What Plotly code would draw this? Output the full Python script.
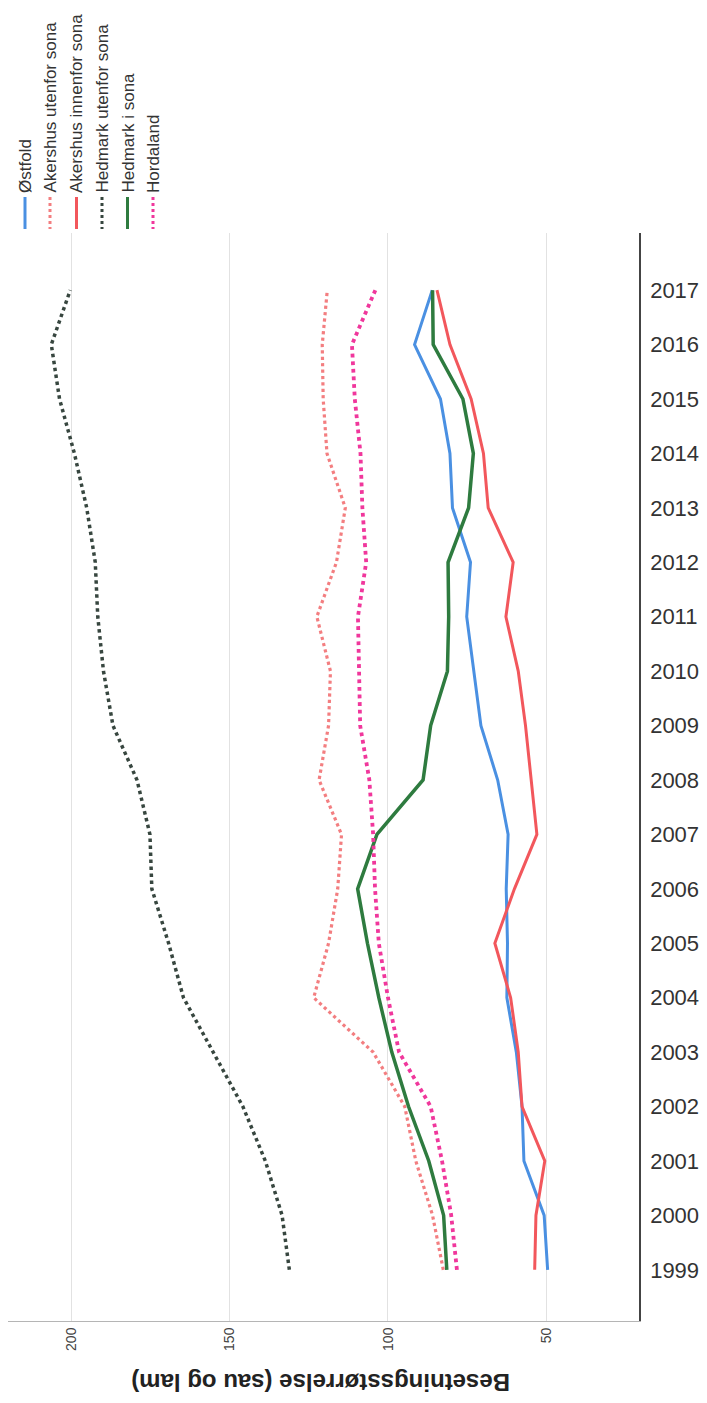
import plotly.graph_objects as go

# ---- data ----
years = list(range(1999, 2018))
series_names = ["Østfold", "Akershus utenfor sona", "Akershus innenfor sona",
                "Hedmark utenfor sona", "Hedmark i sona", "Hordaland"]
ostfold = [49.5, 50.6, 57.0, 57.6, 59.4, 62.4, 62.2, 62.6, 62.0, 65.3, 70.6, 72.9, 75.1, 73.9, 79.6, 80.4, 83.4, 91.6, 86.0]
akershus_utenfor = [82.5, 85.9, 91.2, 94.7, 104.7, 123.5, 118.8, 115.9, 114.7, 121.8, 118.8, 118.2, 122.5, 116.3, 113.5, 119.3, 120.5, 120.8, 119.2]
akershus_innenfor = [53.6, 53.2, 50.4, 57.6, 58.8, 61.2, 66.2, 60.0, 52.9, 54.7, 56.5, 58.8, 62.7, 60.4, 68.3, 69.8, 73.7, 80.4, 84.5]
hedmark_utenfor = [131.2, 133.5, 138.8, 145.9, 155.3, 164.7, 169.4, 174.7, 175.3, 179.4, 187.0, 190.0, 191.8, 192.6, 195.3, 199.2, 203.9, 206.5, 200.5]
hedmark_i_sona = [81.4, 82.4, 87.1, 93.5, 98.8, 102.9, 106.5, 109.6, 103.5, 88.9, 86.5, 81.2, 80.8, 81.0, 74.5, 73.0, 76.3, 85.7, 85.9]
hordaland = [78.2, 80.0, 82.9, 86.5, 96.5, 100.0, 102.9, 104.1, 104.7, 105.9, 108.8, 109.1, 109.5, 106.9, 108.1, 108.7, 110.5, 111.4, 104.0]
value_ticks = [50, 100, 150, 200]
axis_title = "Besetningsstørrelse (sau og lam)"

series_values = [ostfold, akershus_utenfor, akershus_innenfor,
                 hedmark_utenfor, hedmark_i_sona, hordaland]
colors = ["#4a90e2", "#f37e80", "#f2575c", "#37463f", "#2e7b3f", "#f0379c"]
dashes = ["solid", "dot", "solid", "dot", "solid", "dot"]
widths = [3, 3.2, 3, 3.5, 3.5, 3.8]

# page body has an 8px default margin
OFF = 8
W, H = 707 - OFF, 1403 - OFF
ML, MR, MT, MB = 0, 68, 225, 82
PW, PH = W - ML - MR, H - MT - MB


def px_x(p):
    return (p - OFF - ML) / PW


def px_y(p):
    return (H - MB - (p - OFF)) / PH


FONT = "Liberation Sans, Arial, sans-serif"

fig = go.Figure()
for name, vals, c, d, w in zip(series_names, series_values, colors, dashes, widths):
    fig.add_trace(go.Scatter(x=vals, y=years, mode="lines", name=name,
                             line=dict(color=c, dash=d, width=w),
                             showlegend=False))

shapes = []
annotations = []
leg_x = [25, 50, 76.5, 102, 127.5, 153]
for i, name in enumerate(series_names):
    shapes.append(dict(type="line", xref="paper", yref="paper",
                       x0=px_x(leg_x[i]), x1=px_x(leg_x[i]),
                       y0=px_y(197), y1=px_y(229),
                       line=dict(color=colors[i], width=3, dash=dashes[i])))
    annotations.append(dict(text=name, xref="paper", yref="paper",
                            x=px_x(leg_x[i]), y=px_y(195),
                            xanchor="center", yanchor="bottom",
                            textangle=-90, showarrow=False,
                            font=dict(family=FONT, size=17, color="#333333")))

annotations.append(dict(text="<b>" + axis_title + "</b>", xref="paper", yref="paper",
                        x=px_x(321), y=px_y(1383), xanchor="center", yanchor="middle",
                        textangle=180, showarrow=False,
                        font=dict(family=FONT, size=24, color="#222222")))

fig.update_layout(
    width=W, height=H,
    margin=dict(l=ML, r=MR, t=MT, b=MB),
    paper_bgcolor="white", plot_bgcolor="white",
    font=dict(family=FONT, color="#333333"),
    shapes=shapes, annotations=annotations,
    showlegend=False,
)
fig.update_xaxes(range=[220.2, 20.6], tickvals=value_ticks, tickangle=-90,
                 tickfont=dict(size=14, color="#444444"),
                 showgrid=True, gridcolor="#e2e2e2", gridwidth=1,
                 showline=True, linecolor="#b5b5b5", linewidth=1,
                 zeroline=False, ticks="")
fig.update_yaxes(range=[1998.06, 2018.05], tickvals=years, side="right",
                 tickfont=dict(size=22, color="#333333"),
                 showgrid=False, showline=True, linecolor="#444444", linewidth=1.5,
                 zeroline=False, ticks="", ticklabelstandoff=5)

fig.write_html("out.html")
